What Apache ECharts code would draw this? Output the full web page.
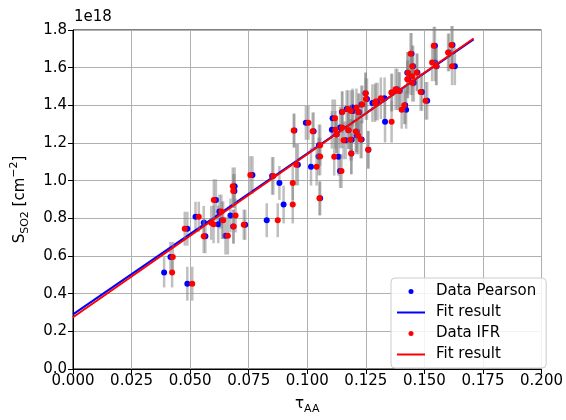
<!DOCTYPE html>
<html>
<head>
<meta charset="utf-8">
<script src="https://cdn.jsdelivr.net/npm/echarts@6/dist/echarts.min.js"></script>
<style>html,body{margin:0;padding:0;background:#fff;}#c{width:566px;height:420px;}</style>
</head>
<body>
<div id="c"></div>
<script>
// tau_AA from the Pearson method
const tauPearson = [0.0389,0.0416,0.0488,0.0488,0.0523,0.0565,0.0558,0.0620,0.0610,0.0625,0.0636,0.0672,0.0651,0.0684,0.0690,0.0689,0.0735,0.0766,0.0827,0.0850,0.0881,0.0899,0.0960,0.0945,0.1016,0.1048,0.1055,0.0994,0.1027,0.1050,0.1105,0.1108,0.1148,0.1168,0.1195,0.1231,0.1248,0.1278,0.1255,0.1222,0.1140,0.1176,0.1212,0.1210,0.1164,0.1190,0.1232,0.1261,0.1133,0.1188,0.1140,0.1300,0.1330,0.1384,0.1395,0.1362,0.1427,0.1452,0.1441,0.1455,0.1418,0.1422,0.1332,0.1545,0.1620,0.1605,0.1545,0.1552,0.1630,0.1445,0.1470,0.1430,0.1490,0.1512,0.1125,0.1193];
// tau_AA from the IFR method
const tauIFR = [0.0423,0.0426,0.0477,0.0509,0.0537,0.0558,0.0590,0.0600,0.0601,0.0633,0.0641,0.0694,0.0661,0.0686,0.0682,0.0684,0.0729,0.0757,0.0874,0.0855,0.0938,0.0938,0.0953,0.0942,0.1040,0.1055,0.1052,0.1005,0.1023,0.1055,0.1120,0.1118,0.1150,0.1174,0.1186,0.1235,0.1250,0.1289,0.1250,0.1218,0.1149,0.1176,0.1207,0.1217,0.1155,0.1184,0.1228,0.1260,0.1115,0.1188,0.1146,0.1292,0.1314,0.1377,0.1391,0.1359,0.1430,0.1448,0.1448,0.1448,0.1414,0.1403,0.1360,0.1540,0.1616,0.1601,0.1533,0.1550,0.1618,0.1441,0.1467,0.1427,0.1484,0.1505,0.1125,0.1210];
// S_SO2 in units of 1e18 cm^-2
const sso2 = [0.513,0.595,0.745,0.453,0.808,0.705,0.776,0.768,0.897,0.836,0.790,0.815,0.708,0.756,0.970,0.945,0.766,1.030,0.790,1.025,0.988,0.873,1.085,1.266,1.074,1.128,0.906,1.307,1.262,1.188,1.270,1.331,1.364,1.380,1.370,1.405,1.464,1.412,1.433,1.363,1.282,1.268,1.261,1.240,1.214,1.217,1.219,1.164,1.127,1.144,1.051,1.420,1.438,1.485,1.476,1.468,1.573,1.607,1.555,1.520,1.400,1.376,1.313,1.717,1.721,1.681,1.628,1.607,1.607,1.674,1.575,1.538,1.471,1.424,1.245,1.389];
// S_SO2 uncertainty (1e18 cm^-2)
const sso2Err = [0.08,0.08,0.09,0.09,0.08,0.09,0.09,0.10,0.11,0.09,0.10,0.09,0.10,0.09,0.10,0.09,0.08,0.10,0.09,0.10,0.09,0.10,0.11,0.09,0.10,0.10,0.09,0.09,0.10,0.11,0.10,0.10,0.11,0.10,0.11,0.10,0.11,0.10,0.11,0.10,0.11,0.10,0.11,0.10,0.10,0.11,0.10,0.10,0.10,0.11,0.09,0.10,0.11,0.11,0.10,0.10,0.11,0.11,0.10,0.10,0.10,0.10,0.11,0.10,0.10,0.10,0.10,0.10,0.10,0.11,0.10,0.10,0.10,0.10,0.10,0.10];
// fit lines
const fitTau = [0, 0.171];
const fitPearson = [0.290, 1.750];
const fitIFR = [0.275, 1.755];
// axis ticks
const xTicks = [0,0.025,0.05,0.075,0.1,0.125,0.15,0.175,0.2];
const yTicks = [0,0.2,0.4,0.6,0.8,1.0,1.2,1.4,1.6,1.8];

const FONT = 'DejaVu Sans';
const pearsonPts = tauPearson.map((t,i)=>[t, sso2[i]]);
const ifrPts = tauIFR.map((t,i)=>[t, sso2[i]]);
const pearsonErr = tauPearson.map((t,i)=>[t, sso2[i]-sso2Err[i], sso2[i]+sso2Err[i]]);
const ifrErr = tauIFR.map((t,i)=>[t, sso2[i]-sso2Err[i], sso2[i]+sso2Err[i]]);

function errRender(params, api){
  const p1 = api.coord([api.value(0), api.value(1)]);
  const p2 = api.coord([api.value(0), api.value(2)]);
  return {type:'line', shape:{x1:p1[0],y1:p1[1],x2:p2[0],y2:p2[1]},
    style:{stroke:'rgba(128,128,128,0.5)', lineWidth:2.5}};
}

const rich = {
  a:{fontSize:15, fontFamily:FONT, color:'#000', lineHeight:22},
  b:{fontSize:11, fontFamily:FONT, color:'#000', lineHeight:11, verticalAlign:'bottom'},
  c:{fontSize:11, fontFamily:FONT, color:'#000', lineHeight:11, verticalAlign:'top'}
};
const lineIcon = 'path://M0,0H28V2H0Z';

const chart = echarts.init(document.getElementById('c'), null, {renderer:'canvas'});
chart.setOption({
  animation:false,
  backgroundColor:'#fff',
  grid:{left:73, right:23, top:30, bottom:47, show:true, borderColor:'#000', borderWidth:1, containLabel:false},
  xAxis:{type:'value', min:0, max:0.2, interval:0.025,
    name:'{a|τ}{b|AA}', nameLocation:'middle', nameGap:24,
    nameTextStyle:{rich:rich},
    axisLine:{show:true, lineStyle:{color:'#000', width:1}},
    axisTick:{show:true, length:5, lineStyle:{color:'#000'}},
    axisLabel:{fontSize:15, fontFamily:FONT, color:'#000', margin:5,
      formatter:v=>v.toFixed(3)},
    splitLine:{show:true, lineStyle:{color:'#b0b0b0', width:1}}},
  yAxis:{type:'value', min:0, max:1.8, interval:0.2,
    name:'{a|S}{b|SO2}{a| [cm}{c|−2}{a|]}', nameLocation:'middle', nameGap:42, nameRotate:90,
    nameTextStyle:{rich:rich},
    axisLine:{show:true, lineStyle:{color:'#000', width:1}},
    axisTick:{show:true, length:5, lineStyle:{color:'#000'}},
    axisLabel:{fontSize:15, fontFamily:FONT, color:'#000', margin:6,
      formatter:v=>v.toFixed(1)},
    splitLine:{show:true, lineStyle:{color:'#b0b0b0', width:1}}},
  legend:{data:[{name:'Data Pearson', icon:'circle'},{name:'Fit result', icon:lineIcon},
                {name:'Data IFR', icon:'circle'},{name:'Fit result ', icon:lineIcon}],
    orient:'vertical', left:391, top:278, itemWidth:28, itemHeight:5, itemGap:6,
    backgroundColor:'rgba(255,255,255,0.85)', borderColor:'#cccccc', borderWidth:1, borderRadius:4,
    padding:[6,10,6,6],
    textStyle:{fontSize:15, fontFamily:FONT, color:'#000', padding:[0,0,0,6]},
    formatter:n=>n.trim()},
  graphic:[{type:'text', left:74, top:10,
    style:{text:'1e18', fontSize:15, fontFamily:FONT, fill:'#000'}}],
  series:[
    {type:'custom', name:'errP', renderItem:errRender, data:pearsonErr, encode:{x:0, y:[1,2]}, z:1, silent:true},
    {type:'scatter', name:'Data Pearson', data:pearsonPts, symbol:'circle', symbolSize:6,
      itemStyle:{color:'#0000ff', opacity:1}, z:2},
    {type:'line', name:'Fit result', data:fitTau.map((t,i)=>[t,fitPearson[i]]), showSymbol:false, symbol:'none',
      lineStyle:{color:'#0000ff', width:2}, itemStyle:{color:'#0000ff'}, z:3},
    {type:'custom', name:'errI', renderItem:errRender, data:ifrErr, encode:{x:0, y:[1,2]}, z:4, silent:true},
    {type:'scatter', name:'Data IFR', data:ifrPts, symbol:'circle', symbolSize:6,
      itemStyle:{color:'#ff0000', opacity:1}, z:5},
    {type:'line', name:'Fit result ', data:fitTau.map((t,i)=>[t,fitIFR[i]]), showSymbol:false, symbol:'none',
      lineStyle:{color:'#ff0000', width:2}, itemStyle:{color:'#ff0000'}, z:6}
  ]
});
</script>
</body>
</html>
